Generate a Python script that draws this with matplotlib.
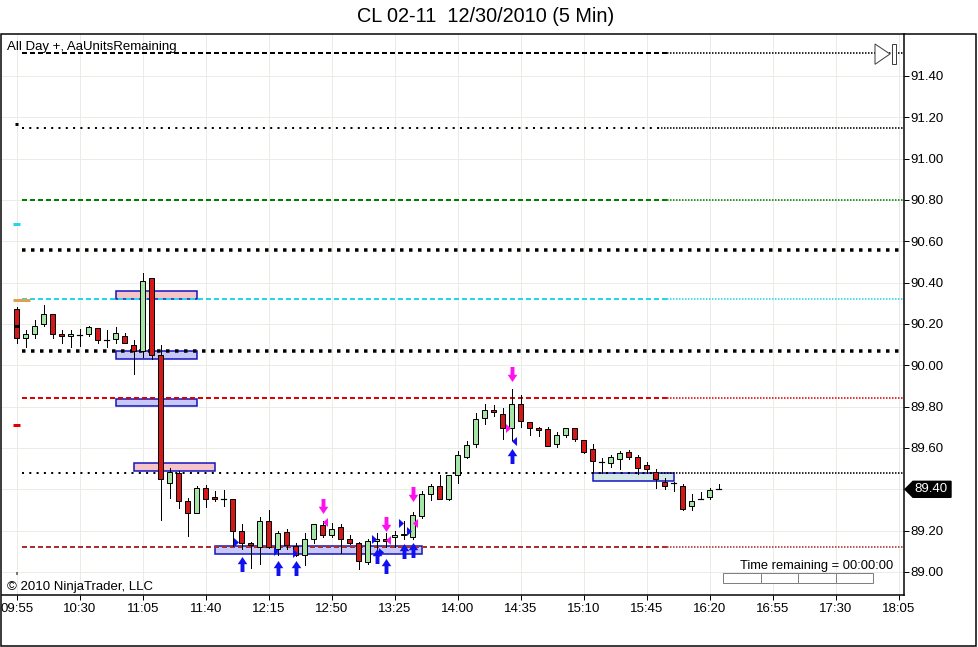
import matplotlib
matplotlib.use("Agg")
import matplotlib.pyplot as plt
from matplotlib.patches import Rectangle, Polygon
from matplotlib import transforms

plt.rcParams['font.family'] = ['Liberation Sans', 'DejaVu Sans']
plt.rcParams['lines.scale_dashes'] = False

# ---------------- data ----------------
title = "CL 02-11  12/30/2010 (5 Min)"
x_tick_labels = ["09:55", "10:30", "11:05", "11:40", "12:15", "12:50", "13:25", "14:00",
                 "14:35", "15:10", "15:45", "16:20", "16:55", "17:30", "18:05"]
y_tick_values = [89.00, 89.20, 89.40, 89.60, 89.80, 90.00, 90.20, 90.40,
                 90.60, 90.80, 91.00, 91.20, 91.40]

opens = [90.27, 90.13, 90.15, 90.20, 90.25, 90.15, 90.14, 90.145, 90.15, 90.18,
         90.12, 90.125, 90.14, 90.10, 90.07, 90.42, 90.05, 89.43, 89.48, 89.345,
         89.285, 89.405, 89.365, 89.355, 89.355, 89.20, 89.14, 89.12, 89.245, 89.11,
         89.195, 89.125, 89.08, 89.16, 89.225, 89.18, 89.22, 89.16, 89.14, 89.05,
         89.15, 89.16, 89.17, 89.18, 89.17, 89.27, 89.375, 89.415, 89.355, 89.47,
         89.555, 89.62, 89.745, 89.785, 89.765, 89.695, 89.815, 89.725, 89.695, 89.69,
         89.62, 89.665, 89.695, 89.64, 89.595, 89.53, 89.525, 89.545, 89.58, 89.555,
         89.52, 89.485, 89.435, 89.43, 89.415, 89.32, 89.355, 89.365, 89.40]
highs = [90.28, 90.17, 90.22, 90.29, 90.25, 90.17, 90.17, 90.175, 90.19, 90.18,
         90.17, 90.185, 90.155, 90.12, 90.445, 90.42, 90.10, 89.505, 89.49, 89.36,
         89.415, 89.42, 89.39, 89.395, 89.355, 89.23, 89.145, 89.265, 89.30, 89.20,
         89.21, 89.14, 89.19, 89.23, 89.245, 89.235, 89.23, 89.18, 89.145, 89.16,
         89.19, 89.19, 89.20, 89.245, 89.29, 89.39, 89.425, 89.47, 89.47, 89.585,
         89.635, 89.77, 89.815, 89.81, 89.795, 89.885, 89.855, 89.725, 89.70, 89.70,
         89.675, 89.695, 89.695, 89.64, 89.62, 89.55, 89.565, 89.585, 89.59, 89.565,
         89.53, 89.50, 89.455, 89.435, 89.425, 89.375, 89.385, 89.405, 89.425]
lows = [90.11, 90.09, 90.13, 90.19, 90.13, 90.11, 90.09, 90.095, 90.14, 90.11,
        90.09, 90.11, 90.11, 89.96, 90.04, 90.03, 89.25, 89.36, 89.31, 89.175,
        89.285, 89.315, 89.345, 89.32, 89.125, 89.11, 89.02, 89.04, 89.115, 89.08,
        89.11, 89.075, 89.035, 89.14, 89.17, 89.17, 89.09, 89.135, 89.015, 89.04,
        89.09, 89.12, 89.12, 89.16, 89.16, 89.26, 89.35, 89.355, 89.35, 89.43,
        89.55, 89.605, 89.715, 89.755, 89.645, 89.64, 89.70, 89.665, 89.66, 89.61,
        89.605, 89.655, 89.635, 89.575, 89.48, 89.48, 89.51, 89.50, 89.545, 89.475,
        89.48, 89.405, 89.40, 89.39, 89.30, 89.30, 89.355, 89.355, 89.40]
closes = [90.13, 90.15, 90.19, 90.25, 90.15, 90.14, 90.15, 90.145, 90.185, 90.12,
          90.12, 90.155, 90.11, 90.07, 90.41, 90.05, 89.45, 89.485, 89.345, 89.285,
          89.405, 89.355, 89.355, 89.355, 89.20, 89.14, 89.13, 89.245, 89.12, 89.19,
          89.13, 89.08, 89.16, 89.23, 89.18, 89.21, 89.16, 89.14, 89.055, 89.15,
          89.16, 89.15, 89.18, 89.185, 89.275, 89.375, 89.415, 89.355, 89.47, 89.565,
          89.615, 89.74, 89.785, 89.775, 89.695, 89.815, 89.73, 89.695, 89.685, 89.61,
          89.665, 89.695, 89.645, 89.58, 89.535, 89.53, 89.555, 89.575, 89.555, 89.505,
          89.50, 89.45, 89.415, 89.43, 89.305, 89.345, 89.355, 89.395, 89.40]

level_prices = [91.51, 91.15, 90.80, 90.56, 90.32, 90.07, 89.84, 89.48, 89.12]
level_colors = ['black', 'black', '#008000', 'black', '#22D8E8', 'black', '#E00000', 'black', '#A83030']
level_styles = ['dash', 'dot', 'dash', 'bigdot', 'dash', 'bigdot', 'dash', 'dot', 'dash']

# short marks on the first bar (previous level values)
mark_prices = [91.166, 90.682, 90.316, 90.19, 89.711, 88.994]
mark_colors = ['black', '#22D8E8', '#E0A050', 'black', '#E00000', 'black']
mark_x0 = [-0.15, -0.4, -0.4, -0.3, -0.4, -0.05]
mark_x1 = [0.15, 0.4, 1.5, 0.3, 0.4, 0.05]

# zones (bar index from/to, price low/high)
zone_x0 = [11, 11, 11, 13, 22, 64]
zone_x1 = [20, 20, 20, 22, 45, 73]
zone_lo = [90.319, 90.032, 89.805, 89.489, 89.086, 89.439]
zone_hi = [90.358, 90.069, 89.837, 89.526, 89.127, 89.479]
zone_fill = ['#F4C4C8', '#C8C8F8', '#C8C8F8', '#F4C4C8', '#C8C8F8', '#D4E8E6']

# signals
sell_x = [34, 41, 44, 55]
sell_y = [89.319, 89.232, 89.377, 89.958]
buy_x = [25, 29, 31, 40, 41, 43, 44, 55]
buy_y = [89.039, 89.019, 89.019, 89.075, 89.031, 89.102, 89.106, 89.561]
blue_right_x = [24.4, 28.8, 30.9, 39.7, 40.5, 42.7, 43.6]
blue_right_y = [89.145, 89.10, 89.09, 89.162, 89.099, 89.235, 89.196]
blue_left_x = [55.3]
blue_left_y = [89.632]
mag_left_x = [34.3, 41.3, 44.3]
mag_left_y = [89.244, 89.155, 89.235]
mag_right_x = [54.6]
mag_right_y = [89.697]

last_price = 89.40

# ---------------- figure ----------------
W, H = 979, 647
PT = 0.72  # points per pixel at dpi 100
fig = plt.figure(figsize=(W / 100, H / 100), dpi=100)
ax = fig.add_axes([2 / W, 52 / H, 902 / W, 561 / H])

x_left, x_right = -1.633, 98.59
ax.set_xlim(x_left, x_right)
ax.set_ylim(88.8887, 91.6028)

# grid / ticks
xt = [7 * k for k in range(len(x_tick_labels))]
ax.set_xticks(xt)
ax.set_xticklabels(x_tick_labels)
ax.set_yticks(y_tick_values)
# the tick label under the last-price box is covered by it
ax.set_yticklabels(["" if abs(v - last_price) < 1e-9 else f"{v:.2f}" for v in y_tick_values])
ax.yaxis.tick_right()
ax.grid(True, color='#ECECE6', linewidth=1 * PT, zorder=0)
ax.set_axisbelow(True)
ax.tick_params(axis='both', direction='out', length=5 * PT, width=1 * PT, labelsize=9.5, colors='black')
ax.tick_params(axis='x', pad=3 * PT)
ax.tick_params(axis='y', pad=1.5 * PT)
for s in ['left', 'top']:
    ax.spines[s].set_visible(False)
for s in ['right', 'bottom']:
    ax.spines[s].set_linewidth(1.5 * PT)

# level lines
style_main = {
    'dash': dict(lw=2 * PT, ls=(0, (5 * PT, 3 * PT))),
    'dot': dict(lw=2 * PT, ls=(0, (2 * PT, 5.3 * PT))),
    'bigdot': dict(lw=3.5 * PT, ls=(0, (3.5 * PT, 5.5 * PT))),
}
switch = {'dash': 72.3, 'dot': 71.6, 'bigdot': None}
for p, c, st in zip(level_prices, level_colors, level_styles):
    sw = switch[st]
    end = sw if sw is not None else x_right
    ax.plot([0.6, end], [p, p], color=c, solid_capstyle='butt', dash_capstyle='butt',
            zorder=2, **style_main[st])
    if sw is not None:
        ax.plot([sw, x_right], [p, p], color=c, lw=1.6 * PT, ls=(0, (1.5 * PT, 1.5 * PT)),
                dash_capstyle='butt', zorder=2)

for p, c, a, b in zip(mark_prices, mark_colors, mark_x0, mark_x1):
    ax.plot([a, b], [p, p], color=c, lw=3 * PT, solid_capstyle='butt', zorder=3.5)

# zones
for a, b, lo, hi, fc in zip(zone_x0, zone_x1, zone_lo, zone_hi, zone_fill):
    ax.add_patch(Rectangle((a, lo), b - a, hi - lo, facecolor=fc, edgecolor='#1010C0',
                           lw=1.5 * PT, zorder=1.5))

# candles
bw = 0.6
for i, (o, h, l, c) in enumerate(zip(opens, highs, lows, closes)):
    ax.plot([i, i], [l, h], color='black', lw=1 * PT, zorder=3)
    if abs(c - o) < 1e-9:
        ax.plot([i - bw / 2, i + bw / 2], [o, o], color='black', lw=1.2 * PT, zorder=3.2)
    else:
        fc = '#A4E4A4' if c > o else '#D41818'
        ax.add_patch(Rectangle((i - bw / 2, min(o, c)), bw, abs(c - o), facecolor=fc,
                               edgecolor='black', lw=1 * PT, zorder=3.1))

# signal markers
up_arrow = [(-0.13, -0.5), (0.13, -0.5), (0.13, 0.02), (0.32, 0.02), (0, 0.5),
            (-0.32, 0.02), (-0.13, 0.02), (-0.13, -0.5)]
down_arrow = [(x, -y) for x, y in up_arrow]
tri_right = [(-0.28, -0.5), (0.28, 0.0), (-0.28, 0.5), (-0.28, -0.5)]
tri_left = [(-x, y) for x, y in tri_right]
ax.plot(sell_x, sell_y, ls='none', marker=down_arrow, ms=15 * PT, color='#FF10F0', mec='none', zorder=4)
ax.plot(buy_x, buy_y, ls='none', marker=up_arrow, ms=15 * PT, color='#1010F0', mec='none', zorder=4)
ax.plot(blue_right_x, blue_right_y, ls='none', marker=tri_right, ms=9 * PT, color='#1010F0', mec='none', zorder=4)
ax.plot(blue_left_x, blue_left_y, ls='none', marker=tri_left, ms=9 * PT, color='#1010F0', mec='none', zorder=4)
ax.plot(mag_left_x, mag_left_y, ls='none', marker=tri_left, ms=9 * PT, color='#FF10F0', mec='none', zorder=4)
ax.plot(mag_right_x, mag_right_y, ls='none', marker=tri_right, ms=9 * PT, color='#FF10F0', mec='none', zorder=4)

# last price box on axis
bt = transforms.blended_transform_factory(fig.transFigure, ax.transData)
hh = 8 / 206.7
box = Polygon([(905 / W, last_price), (913 / W, last_price + hh), (951 / W, last_price + hh),
               (951 / W, last_price - hh), (913 / W, last_price - hh)], closed=True,
              facecolor='black', edgecolor='black', transform=bt, clip_on=False, zorder=5)
ax.add_patch(box)
ax.text(931 / W, last_price, f"{last_price:.2f}", transform=bt, color='white', fontsize=9.5,
        ha='center', va='center', zorder=6, clip_on=False)

# texts
fy = lambda y: 1 - y / H
fig.text(486 / W, fy(17), title, ha='center', va='center', fontsize=14.3)
fig.text(7.3 / W, fy(47.3), "All Day +, AaUnitsRemaining", ha='left', va='center', fontsize=9.5)
fig.text(6.7 / W, fy(586.7), "© 2010 NinjaTrader, LLC", ha='left', va='center', fontsize=9.5)
fig.text(740 / W, fy(566), "Time remaining = 00:00:00", ha='left', va='center', fontsize=9.3)

# progress bar
seg_edges = [723.3, 761.3, 798.3, 835.7, 873.3]
for a, b in zip(seg_edges[:-1], seg_edges[1:]):
    fig.add_artist(Rectangle((a / W, fy(583.3)), (b - a) / W, 10 / H, transform=fig.transFigure,
                             facecolor='white', edgecolor='#808080', lw=1 * PT))

# play icon
fig.add_artist(Polygon([(875 / W, fy(44)), (890 / W, fy(54)), (875 / W, fy(64.3))], closed=True,
                       transform=fig.transFigure, facecolor='white', edgecolor='#404040', lw=1 * PT))
fig.add_artist(Rectangle((892.3 / W, fy(63.7)), 3.4 / W, 19.4 / H, transform=fig.transFigure,
                         facecolor='white', edgecolor='#404040', lw=1 * PT))

# outer panel border
fig.add_artist(Rectangle((1 / W, fy(646)), 975 / W, 612 / H, transform=fig.transFigure,
                         facecolor='none', edgecolor='black', lw=1.5 * PT))

fig.savefig("out.png", dpi=100)
